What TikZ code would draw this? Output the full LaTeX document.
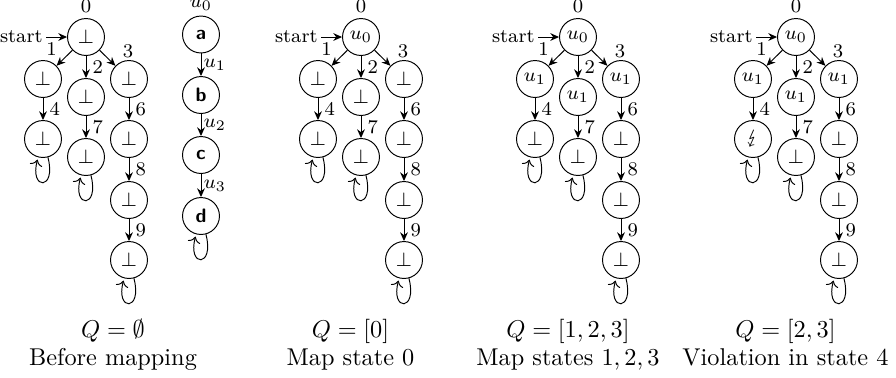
\documentclass[tikz,border=0pt]{standalone}
\usepackage{stmaryrd}
\usetikzlibrary{arrows.meta}
\tikzset{
  st/.style={circle, draw, minimum size=15.2pt, inner sep=0pt, font=\footnotesize},
  ar/.style={-{Stealth[length=3.6pt,width=3.2pt]}},
  lbl/.style={font=\footnotesize, inner sep=2.5pt},
  toplbl/.style={font=\footnotesize, inner sep=1.9pt},
  ulbl/.style={font=\footnotesize, inner sep=1pt},
  captxt/.style={anchor=base, inner sep=0pt},
  lett/.style={st, font=\footnotesize\sffamily\bfseries},
}
% #1 prefix, #2 root x, #3 root, #4 left1, #5 mid1, #6 right1, #7 left2
\newcommand\mytree[7]{%
  \node[st, label={[toplbl]above:0}] (#1r) at (#2,37) {#3};
  \node[font=\footnotesize, anchor=east, inner sep=1.2pt] (#1s) at (#2-40,37) {start};
  \node[st] (#1a) at (#2-43,79) {#4};
  \node[st] (#1b) at (#2,97) {#5};
  \node[st] (#1c) at (#2+43,79) {#6};
  \node[st] (#1d) at (#2-43,139) {#7};
  \node[st] (#1e) at (#2,157) {$\bot$};
  \node[st] (#1f) at (#2+43,139) {$\bot$};
  \node[st] (#1g) at (#2+43,200) {$\bot$};
  \node[st] (#1h) at (#2+43,260) {$\bot$};
  \draw[ar] (#1s) -- (#1r);
  \draw[ar] (#1r) -- node[lbl, shift={(-13,-9)}] {1} (#1a);
  \draw[ar] (#1r) -- node[lbl, right] {2} (#1b);
  \draw[ar] (#1r) -- node[lbl, shift={(20.5,-7)}] {3} (#1c);
  \draw[ar] (#1a) -- node[lbl, right] {4} (#1d);
  \draw[ar] (#1c) -- node[lbl, right] {6} (#1f);
  \draw[ar] (#1b) -- node[lbl, right] {7} (#1e);
  \draw[ar] (#1f) -- node[lbl, right] {8} (#1g);
  \draw[ar] (#1g) -- node[lbl, right] {9} (#1h);
  \draw (#1d) edge[ar, loop below] (#1d);
  \draw (#1e) edge[ar, loop below] (#1e);
  \draw (#1h) edge[ar, loop below] (#1h);
}
\begin{document}
\begin{tikzpicture}[x=0.4115pt, y=-0.4115pt]
\useasboundingbox (0,0) rectangle (896,377);
% panel 1
\node[lett, label={[font=\footnotesize, inner sep=0pt, label distance=1.8pt]above:$u_0$}] (ca) at (201,34.5) {a};
\node[lett] (cb) at (201,95) {b};
\node[lett] (cc) at (201,155) {c};
\node[lett] (cd) at (201,216) {d};
\draw[ar] (ca) -- node[ulbl, right] {$u_1$} (cb);
\draw[ar] (cb) -- node[ulbl, right] {$u_2$} (cc);
\draw[ar] (cc) -- node[ulbl, right] {$u_3$} (cd);
\draw (cd) edge[ar, loop below] (cd);
\mytree{p}{86}{$\bot$}{$\bot$}{$\bot$}{$\bot$}{$\bot$}
% panel 2
\mytree{q}{361}{$u_0$}{$\bot$}{$\bot$}{$\bot$}{$\bot$}
% panel 3
\mytree{s}{578}{$u_0$}{$u_1$}{$u_1$}{$u_1$}{$\bot$}
% panel 4
\mytree{v}{796}{$u_0$}{$u_1$}{$u_1$}{$u_1$}{$\lightning$}
% captions
\node[captxt] (pq) at (113,337.5) {$Q=\emptyset$};
\node[captxt] (pt) at (113,365) {Before mapping};
\node[captxt] (qq) at (350.5,337.5) {$Q=[0]$};
\node[captxt] (qt) at (350.5,365) {Map state 0};
\node[captxt] (sq) at (568,337.5) {$Q=[1,2,3]$};
\node[captxt] (stt) at (568,365) {Map states $1,2,3$};
\node[captxt] (vq) at (785.5,337.5) {$Q=[2,3]$};
\node[captxt] (vt) at (785.5,365) {Violation in state 4};
\end{tikzpicture}
\end{document}
